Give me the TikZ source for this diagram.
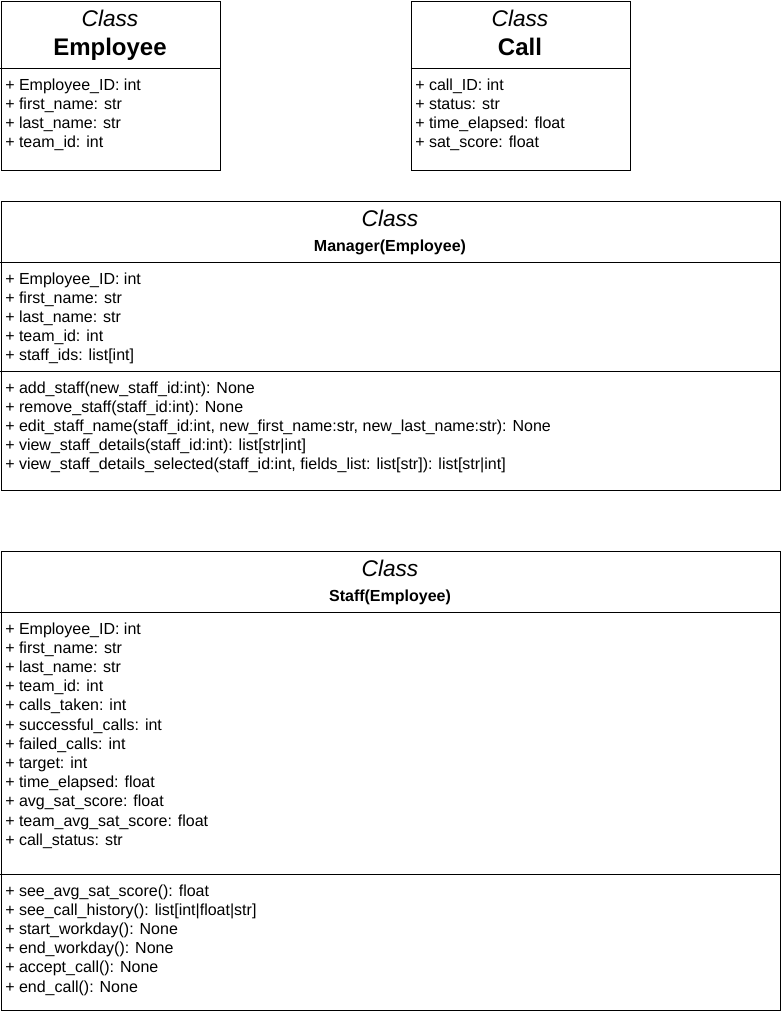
\documentclass[tikz,border=0pt]{standalone}
\usepackage{fontspec}
\setmainfont{Liberation Sans}
\begin{document}
\begin{tikzpicture}[x=0.75pt,y=-0.75pt,
  classbox/.style={draw=black,line width=0.75pt,fill=white,rectangle,inner sep=0,anchor=north west},
  stereo/.style={font=\fontsize{17}{20}\selectfont\itshape,inner sep=0,anchor=base},
  bigname/.style={font=\fontsize{18}{21}\selectfont\bfseries,inner sep=0,anchor=base},
  smallname/.style={font=\fontsize{12}{14}\selectfont\bfseries,inner sep=0,anchor=base},
  member/.style={font=\fontsize{12}{14}\selectfont,inner sep=0,anchor=base west},
  divider/.style={draw=black,line width=0.75pt}]
\useasboundingbox (0,0) rectangle (781,1011);

% ---- Employee ----
\node[classbox,minimum width=164.625pt,minimum height=127.125pt] (employee) at (0.5,0.5) {};
\draw[divider] (0.5,68.5) -- (220,68.5);
\node[stereo] (employee-st) at (110,26) {Class};
\node[bigname] (employee-name) at (110,55) {Employee};
\foreach \t [count=\i] in {{+ Employee\_ID: int},{+ first\_name: str},{+ last\_name: str},{+ team\_id: int}}
  \node[member] (employee-a\i) at (5,{90+19*(\i-1)}) {\t};

% ---- Call ----
\node[classbox,minimum width=164.625pt,minimum height=127.125pt] (call) at (410.5,0.5) {};
\draw[divider] (410.5,68.5) -- (630,68.5);
\node[stereo] (call-st) at (520,26) {Class};
\node[bigname] (call-name) at (520,55) {Call};
\foreach \t [count=\i] in {{+ call\_ID: int},{+ status: str},{+ time\_elapsed: float},{+ sat\_score: float}}
  \node[member] (call-a\i) at (415,{90+19*(\i-1)}) {\t};

% ---- Manager ----
\node[classbox,minimum width=584.625pt,minimum height=217.125pt] (manager) at (0.5,200.5) {};
\draw[divider] (0.5,262.5) -- (780,262.5);
\draw[divider] (0.5,371.5) -- (780,371.5);
\node[stereo] (manager-st) at (390,226) {Class};
\node[smallname] (manager-name) at (390,251) {Manager(Employee)};
\foreach \t [count=\i] in {{+ Employee\_ID: int},{+ first\_name: str},{+ last\_name: str},{+ team\_id: int},{+ staff\_ids: list[int]}}
  \node[member] (manager-a\i) at (5,{284+19*(\i-1)}) {\t};
\foreach \t [count=\i] in {{+ add\_staff(new\_staff\_id:int): None},
  {+ remove\_staff(staff\_id:int): None},
  {+ edit\_staff\_name(staff\_id:int, new\_first\_name:str, new\_last\_name:str): None},
  {+ view\_staff\_details(staff\_id:int): list[str|int]},
  {+ view\_staff\_details\_selected(staff\_id:int, fields\_list: list[str]): list[str|int]}}
  \node[member] (manager-m\i) at (5,{393+19*(\i-1)}) {\t};

% ---- Staff ----
\node[classbox,minimum width=584.625pt,minimum height=344.25pt] (staff) at (0.5,550.5) {};
\draw[divider] (0.5,612.5) -- (780,612.5);
\draw[divider] (0.5,874.5) -- (780,874.5);
\node[stereo] (staff-st) at (390,576) {Class};
\node[smallname] (staff-name) at (390,601) {Staff(Employee)};
\foreach \t [count=\i] in {{+ Employee\_ID: int},{+ first\_name: str},{+ last\_name: str},{+ team\_id: int},
  {+ calls\_taken: int},{+ successful\_calls: int},{+ failed\_calls: int},{+ target: int},
  {+ time\_elapsed: float},{+ avg\_sat\_score: float},{+ team\_avg\_sat\_score: float},{+ call\_status: str}}
  \node[member] (staff-a\i) at (5,{634+19.2*(\i-1)}) {\t};
\foreach \t [count=\i] in {{+ see\_avg\_sat\_score(): float},{+ see\_call\_history(): list[int|float|str]},
  {+ start\_workday(): None},{+ end\_workday(): None},{+ accept\_call(): None},{+ end\_call(): None}}
  \node[member] (staff-m\i) at (5,{896+19.2*(\i-1)}) {\t};
\end{tikzpicture}
\end{document}
